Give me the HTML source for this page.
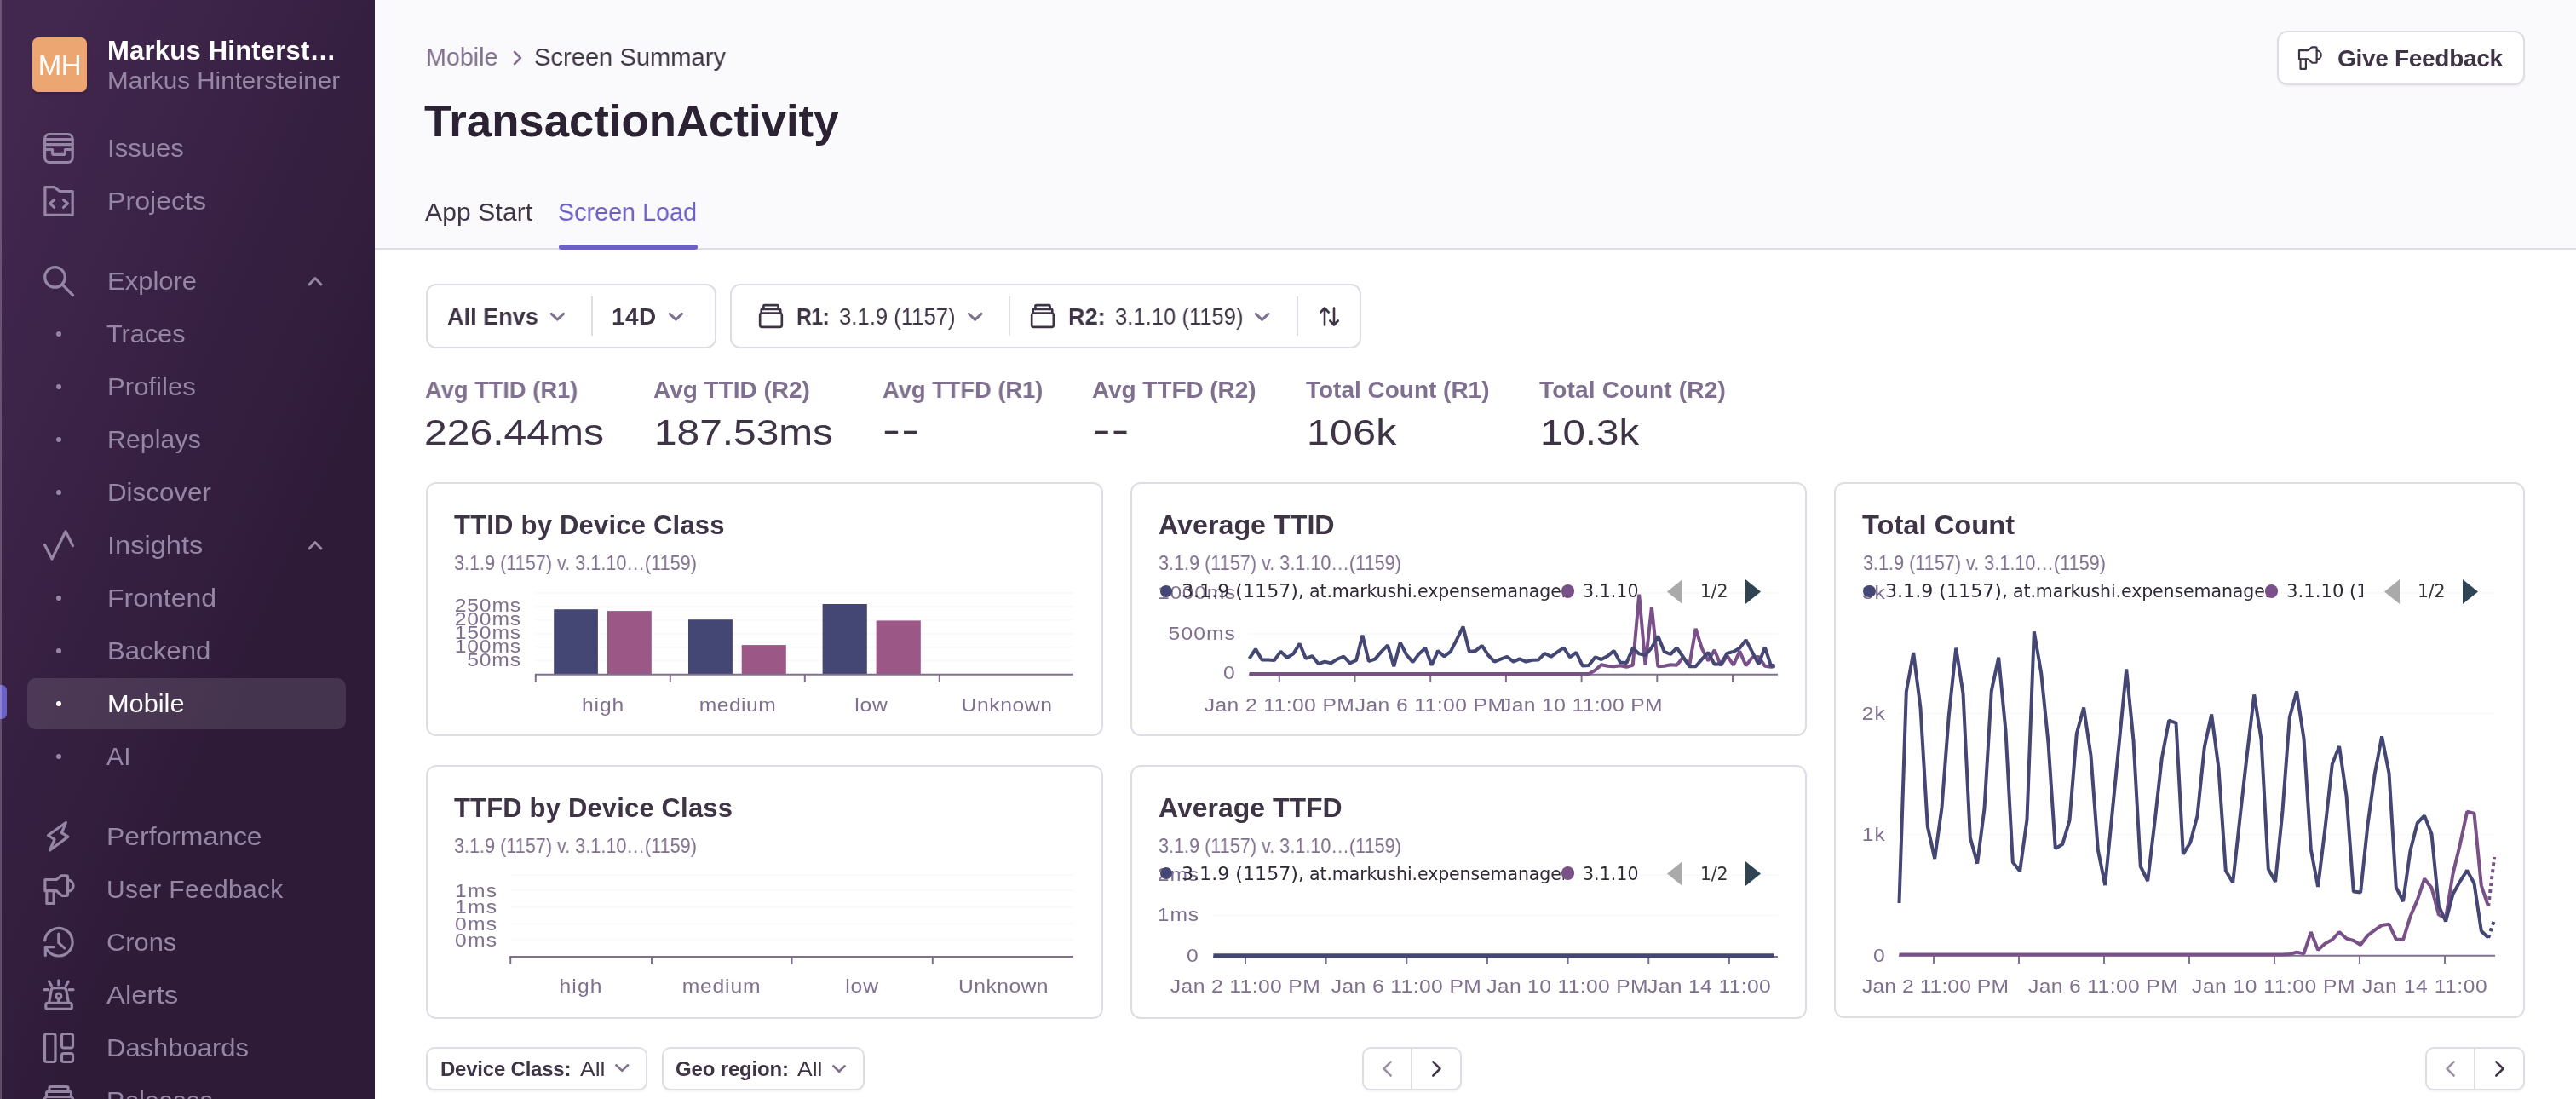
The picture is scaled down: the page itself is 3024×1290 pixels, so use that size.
<!DOCTYPE html>
<html lang="en">
<head>
<meta charset="utf-8">
<title>TransactionActivity — Screen Summary — Mobile — Sentry</title>
<style>
*{box-sizing:border-box;margin:0;padding:0}
html,body{width:3024px;height:1290px;overflow:hidden;background:#fff}
body{position:relative;font-family:"Liberation Sans",sans-serif;color:#2b2233}
.t{position:absolute;will-change:transform;white-space:nowrap;line-height:1;display:block;font-style:normal;text-decoration:none}
.abs{position:absolute}
nav.sidebar{position:absolute;left:0;top:0;width:440px;height:1290px;background:linear-gradient(294.17deg,#2e1b38 35.57%,#42274f 92.42%);overflow:hidden}
nav.sidebar .edge{position:absolute;left:0;top:0;width:2px;height:1290px;background:rgba(255,255,255,.22);z-index:3}
.ico{position:absolute;width:36px;height:36px;fill:none;stroke:#9586a5;stroke-width:3.2;stroke-linecap:round;stroke-linejoin:round;overflow:visible}
.dot{position:absolute;width:6px;height:6px;border-radius:50%;background:#9586a5;left:66px}
header.top{position:absolute;left:440px;top:0;width:2584px;height:293px;background:#faf9fb;border-bottom:2px solid #e0dce5}
main{position:absolute;left:440px;top:293px;width:2584px;height:997px;background:#fff}
.box{position:absolute;background:#fff;border:2px solid #e0dce5;border-radius:12px}
.btn{position:absolute;background:#fff;border:2px solid #e0dce5;border-radius:12px;box-shadow:0 2px 2px rgba(43,34,51,.04)}
.vdiv{position:absolute;width:2px;background:#e0dce5}
.chev{position:absolute;fill:none;stroke:#71637e;stroke-width:3;stroke-linecap:round;stroke-linejoin:round;overflow:visible}
svg.chart{position:absolute;left:0;top:0;overflow:visible}
</style>
</head>
<body>
<nav class="sidebar">
<div class="edge"></div>
<div class="abs" style="left:38px;top:44px;width:64px;height:64px;border-radius:7px;background:#eca671;box-shadow:0 2px 4px rgba(0,0,0,.18)"></div>
<div class="abs" style="left:32px;top:796px;width:374px;height:60px;border-radius:10px;background:rgba(255,255,255,.115)"></div>
<div class="abs" style="left:0;top:804px;width:8px;height:40px;border-radius:0 6px 6px 0;background:#6c5fc7"></div>
<svg class="ico" style="left:51px;top:156px" viewBox="0 0 36 36"><rect x="1.6" y="1.5" width="32.6" height="33" rx="5.5"/><path d="M2 7.6H34M2 13.6H34M2 19.5H10.5V23.4Q10.5 25.4 12.5 25.4H23.5Q25.5 25.4 25.5 23.4V19.5H34"/></svg>
<svg class="ico" style="left:51px;top:218px" viewBox="0 0 36 36"><path d="M1.9 1.7H12.6L19.2 6.5H34.2V34.3H1.9Z"/><path d="M12.6 16.5L7.6 20.9L12.6 25.4M23.5 16.5L28.6 20.9L23.5 25.4"/></svg>
<svg class="ico" style="left:51px;top:312px" viewBox="0 0 36 36"><circle cx="13.5" cy="13.4" r="11.8"/><path d="M22.6 22.4L34.6 34.5"/></svg>
<i class="dot" style="top:389px"></i>
<i class="dot" style="top:451px"></i>
<i class="dot" style="top:513px"></i>
<i class="dot" style="top:575px"></i>
<svg class="ico" style="left:51px;top:622px" viewBox="0 0 36 36"><path d="M1.5 17.6L10 34L26 1.8L34.5 18.5"/></svg>
<i class="dot" style="top:699px"></i>
<i class="dot" style="top:761px"></i>
<i class="dot" style="top:823px;background:#fff"></i>
<i class="dot" style="top:885px"></i>
<svg class="ico" style="left:51px;top:964px" viewBox="0 0 36 36"><path d="M26.4 1.5L5.5 16.5L13 21.3L7.6 34L28.9 18.1L21.4 13.6Z"/></svg>
<svg class="ico" style="left:51px;top:1026px" viewBox="0 0 36 36"><path d="M1.9 6.5H15.3L21.2 1.8H27Q28.5 1.8 28.5 3.3V24Q28.5 25.4 27 25.4H21.7L15.3 19.7H1.9Z"/><path d="M3.9 19.7V34.5H12.1V19.7"/><path d="M28.5 7A6.6 6.6 0 0 1 28.5 20.2"/></svg>
<svg class="ico" style="left:51px;top:1088px" viewBox="0 0 36 36"><path d="M1.6 16A16.3 16.3 0 1 1 5 27.8L2.4 23.8"/><path d="M2.3 33.5V23.6H12"/><path d="M17.8 8.1V18.6L24.8 24.9"/></svg>
<svg class="ico" style="left:51px;top:1150px" viewBox="0 0 36 36"><path d="M6.6 27L9.1 12.5Q9.6 9.7 12.6 9.7H23.2Q26.2 9.7 26.9 12.5L29.4 27"/><rect x="2.8" y="27.4" width="30.5" height="6.9" rx="2"/><circle cx="17.8" cy="19.2" r="3"/><path d="M17.8 22.2V27M17.8 0.8V6M6.6 2L9.4 7M29.2 2.2L26.4 7M1 11.7H5.5M30.3 11.7H35"/></svg>
<svg class="ico" style="left:51px;top:1212px" viewBox="0 0 36 36"><rect x="1.5" y="1.5" width="12.5" height="33" rx="2.5"/><rect x="21.5" y="1.5" width="13" height="16.5" rx="2.5"/><rect x="21.5" y="24.5" width="13" height="10" rx="2.5"/></svg>
<svg class="ico" style="left:51px;top:1274px" viewBox="0 0 36 36"><path d="M7 7.5V3Q7 1.5 8.5 1.5H27.5Q29 1.5 29 3V7.5"/><path d="M3.5 13.5V9Q3.5 7.5 5 7.5H31Q32.5 7.5 32.5 9V13.5"/><rect x="1.5" y="13.5" width="33" height="21" rx="3"/></svg>
<svg class="chev" style="left:362px;top:325px;width:16px;height:10px;stroke:#9586a5" viewBox="0 0 16 10"><path d="M1 9L8 1.5L15 9"/></svg>
<svg class="chev" style="left:362px;top:635px;width:16px;height:10px;stroke:#9586a5" viewBox="0 0 16 10"><path d="M1 9L8 1.5L15 9"/></svg>
<span class="t" style="left:70.0px;top:60px;font-size:33px;color:#fff;letter-spacing:-0.33px;transform:translateX(-50%);">MH</span>
<span class="t" style="left:125.8px;top:44px;font-size:31px;color:#fff;font-weight:700;letter-spacing:0.22px;">Markus Hinterst…</span>
<span class="t" style="left:126.1px;top:82px;font-size:27px;color:#9586a5;transform-origin:0 50%;transform:scaleX(1.096);">Markus Hintersteiner</span>
<a class="t" style="left:125.7px;top:159px;font-size:30px;color:#9586a5;transform-origin:0 50%;transform:scaleX(1.036);">Issues</a>
<a class="t" style="left:125.7px;top:221px;font-size:30px;color:#9586a5;transform-origin:0 50%;transform:scaleX(1.071);">Projects</a>
<a class="t" style="left:125.7px;top:315px;font-size:30px;color:#9586a5;transform-origin:0 50%;transform:scaleX(1.033);">Explore</a>
<a class="t" style="left:125.0px;top:377px;font-size:30px;color:#9586a5;transform-origin:0 50%;transform:scaleX(1.021);">Traces</a>
<a class="t" style="left:125.7px;top:439px;font-size:30px;color:#9586a5;transform-origin:0 50%;transform:scaleX(1.038);">Profiles</a>
<a class="t" style="left:125.7px;top:501px;font-size:30px;color:#9586a5;letter-spacing:0.23px;">Replays</a>
<a class="t" style="left:125.7px;top:563px;font-size:30px;color:#9586a5;transform-origin:0 50%;transform:scaleX(1.044);">Discover</a>
<a class="t" style="left:125.7px;top:625px;font-size:30px;color:#9586a5;transform-origin:0 50%;transform:scaleX(1.086);">Insights</a>
<a class="t" style="left:125.7px;top:687px;font-size:30px;color:#9586a5;transform-origin:0 50%;transform:scaleX(1.067);">Frontend</a>
<a class="t" style="left:125.7px;top:749px;font-size:30px;color:#9586a5;transform-origin:0 50%;transform:scaleX(1.039);">Backend</a>
<a class="t" style="left:125.7px;top:811px;font-size:30px;color:#fff;transform-origin:0 50%;transform:scaleX(1.024);">Mobile</a>
<a class="t" style="left:125.0px;top:873px;font-size:30px;color:#9586a5;letter-spacing:0.34px;">AI</a>
<a class="t" style="left:125.4px;top:967px;font-size:30px;color:#9586a5;transform-origin:0 50%;transform:scaleX(1.063);">Performance</a>
<a class="t" style="left:125.4px;top:1029px;font-size:30px;color:#9586a5;letter-spacing:0.32px;">User Feedback</a>
<a class="t" style="left:125.4px;top:1091px;font-size:30px;color:#9586a5;transform-origin:0 50%;transform:scaleX(1.028);">Crons</a>
<a class="t" style="left:124.5px;top:1153px;font-size:30px;color:#9586a5;transform-origin:0 50%;transform:scaleX(1.097);">Alerts</a>
<a class="t" style="left:125.4px;top:1215px;font-size:30px;color:#9586a5;transform-origin:0 50%;transform:scaleX(1.033);">Dashboards</a>
<a class="t" style="left:125.4px;top:1277px;font-size:30px;color:#9586a5;letter-spacing:-0.04px;">Releases</a>
</nav>
<header class="top">
<svg class="chev" style="left:162.5px;top:60px;width:9px;height:16px;stroke:#80708f;stroke-width:2.6" viewBox="0 0 9 16"><path d="M1 1L8 8L1 15"/></svg>
<div class="abs" style="left:216px;top:287px;width:163px;height:6px;border-radius:3px;background:#6c5fc7"></div>
<div class="btn" style="left:2233px;top:36px;width:291px;height:64px"></div>
<svg class="ico" style="left:2257px;top:54px;width:29px;height:28px;stroke:#3e3446;stroke-width:2.8" viewBox="0 0 36 36"><path d="M1.9 6.5H15.3L21.2 1.8H27Q28.5 1.8 28.5 3.3V24Q28.5 25.4 27 25.4H21.7L15.3 19.7H1.9Z"/><path d="M3.9 19.7V34.5H12.1V19.7"/><path d="M28.5 7A6.6 6.6 0 0 1 28.5 20.2"/></svg>
<a class="t" style="left:59.7px;top:52px;font-size:30px;color:#80708f;transform-origin:0 50%;transform:scaleX(0.956);">Mobile</a>
<span class="t" style="left:187.4px;top:52px;font-size:30px;color:#3e3446;transform-origin:0 50%;transform:scaleX(0.971);">Screen Summary</span>
<h1 class="t" style="left:58.4px;top:117px;font-size:51px;color:#2b2233;font-weight:700;transform-origin:0 50%;transform:scaleX(1.034);">TransactionActivity</h1>
<a class="t" style="left:59.0px;top:234px;font-size:30px;color:#3e3446;letter-spacing:0.14px;">App Start</a>
<a class="t" style="left:215.2px;top:234px;font-size:30px;color:#6c5fc7;transform-origin:0 50%;transform:scaleX(0.958);">Screen Load</a>
<span class="t" style="left:2303.5px;top:55px;font-size:28px;color:#3e3446;font-weight:700;letter-spacing:-0.30px;">Give Feedback</span>
</header>
<main>
<div class="box" style="left:60px;top:40px;width:341px;height:76px"></div>
<svg class="chev" style="left:205.8px;top:74.3px;width:16.8px;height:9.4px;stroke:#80708f;stroke-width:3" viewBox="0 0 16.8 9.4"><path d="M1.3 1.3L8.4 8.1L15.5 1.3"/></svg>
<div class="vdiv" style="left:254px;top:55px;height:46px"></div>
<svg class="chev" style="left:344.8px;top:74.3px;width:16.8px;height:9.4px;stroke:#80708f;stroke-width:3" viewBox="0 0 16.8 9.4"><path d="M1.3 1.3L8.4 8.1L15.5 1.3"/></svg>
<div class="box" style="left:417px;top:40px;width:741px;height:76px"></div>
<svg class="ico" style="left:451.0px;top:64.3px;width:28px;height:28px;stroke:#3e3446;stroke-width:3.4" viewBox="0 0 36 36"><path d="M7 7.5V3Q7 1.5 8.5 1.5H27.5Q29 1.5 29 3V7.5"/><path d="M3.5 13.5V9Q3.5 7.5 5 7.5H31Q32.5 7.5 32.5 9V13.5"/><rect x="1.5" y="13.5" width="33" height="21" rx="3"/></svg>
<svg class="chev" style="left:695.7px;top:74.2px;width:17.3px;height:9.7px;stroke:#80708f;stroke-width:3" viewBox="0 0 17.3 9.7"><path d="M1.3 1.3L8.6 8.4L16.0 1.3"/></svg>
<div class="vdiv" style="left:744px;top:55px;height:46px"></div>
<svg class="ico" style="left:770.0px;top:64.3px;width:28px;height:28px;stroke:#3e3446;stroke-width:3.4" viewBox="0 0 36 36"><path d="M7 7.5V3Q7 1.5 8.5 1.5H27.5Q29 1.5 29 3V7.5"/><path d="M3.5 13.5V9Q3.5 7.5 5 7.5H31Q32.5 7.5 32.5 9V13.5"/><rect x="1.5" y="13.5" width="33" height="21" rx="3"/></svg>
<svg class="chev" style="left:1033.4px;top:74.2px;width:17.2px;height:9.6px;stroke:#80708f;stroke-width:3" viewBox="0 0 17.2 9.6"><path d="M1.3 1.3L8.6 8.3L15.9 1.3"/></svg>
<div class="vdiv" style="left:1082px;top:55px;height:46px"></div>
<svg class="chev" style="left:1109px;top:67px;width:23px;height:23px;stroke:#3e3446;stroke-width:2.6" viewBox="0 0 23 23"><path d="M6 21.5V1.8M1.3 6.5L6 1.5L10.7 6.5M17 1.5V21.2M12.3 16.5L17 21.5L21.7 16.5"/></svg>
<section class="box" style="left:60px;top:273px;width:795px;height:298px"></section>
<section class="box" style="left:887px;top:273px;width:794px;height:298px"></section>
<section class="box" style="left:1713px;top:273px;width:811px;height:629px"></section>
<section class="box" style="left:60px;top:605px;width:795px;height:298px"></section>
<section class="box" style="left:887px;top:605px;width:794px;height:298px"></section>
<svg class="chart" style="left:60px;top:273px;width:795px;height:298px" viewBox="500 566 795 298"><path d="M628.5 696H1260" stroke="#faf9fb" stroke-width="2" fill="none"/><path d="M628.5 712H1260" stroke="#faf9fb" stroke-width="2" fill="none"/><path d="M628.5 727.8H1260" stroke="#faf9fb" stroke-width="2" fill="none"/><path d="M628.5 744H1260" stroke="#faf9fb" stroke-width="2" fill="none"/><path d="M628.5 759.8H1260" stroke="#faf9fb" stroke-width="2" fill="none"/><path d="M628.5 775.6H1260" stroke="#faf9fb" stroke-width="2" fill="none"/><rect x="650.2" y="715.2" width="51.7" height="75.8" fill="#444674"/><rect x="713" y="717.1" width="51.8" height="73.9" fill="#9b5887"/><rect x="808" y="727.2" width="51.9" height="63.8" fill="#444674"/><rect x="870.7" y="757.1" width="52.1" height="33.9" fill="#9b5887"/><rect x="965.6" y="709" width="52.2" height="82.0" fill="#444674"/><rect x="1028.6" y="728.4" width="52.2" height="62.6" fill="#9b5887"/><path d="M628 791.8H1260" stroke="#80708f" stroke-width="2" fill="none"/><path d="M628.8 791V800.8M786.8 791V800.8M944.8 791V800.8M1102.8 791V800.8" stroke="#80708f" stroke-width="2" fill="none"/></svg>
<svg class="chart" style="left:60px;top:605px;width:795px;height:298px" viewBox="500 898 795 298"><path d="M599 1027H1260" stroke="#faf9fb" stroke-width="2" fill="none"/><path d="M599 1045H1260" stroke="#faf9fb" stroke-width="2" fill="none"/><path d="M599 1064.6H1260" stroke="#faf9fb" stroke-width="2" fill="none"/><path d="M599 1084.6H1260" stroke="#faf9fb" stroke-width="2" fill="none"/><path d="M599 1102.8H1260" stroke="#faf9fb" stroke-width="2" fill="none"/><path d="M598.5 1123H1260" stroke="#80708f" stroke-width="2" fill="none"/><path d="M599.2 1122V1132M765 1122V1132M929.5 1122V1132M1094.8 1122V1132" stroke="#80708f" stroke-width="2" fill="none"/></svg>
<svg class="chart" style="left:887px;top:273px;width:794px;height:298px" viewBox="1327 566 794 298"><path d="M1466.4 696H2087" stroke="#faf9fb" stroke-width="2" fill="none"/><path d="M1466.4 744H2087" stroke="#faf9fb" stroke-width="2" fill="none"/><path d="M1466 791.8H2087" stroke="#80708f" stroke-width="2" fill="none"/><path d="M1501.8 791V800.8M1590.5 791V800.8M1679.2 791V800.8M1767.9 791V800.8M1856.6 791V800.8M1945.3 791V800.8M2034.0 791V800.8" stroke="#80708f" stroke-width="2" fill="none"/><polyline points="1466.6,790.9 1474.0,790.9 1481.4,790.9 1488.7,790.9 1496.1,790.9 1503.5,790.9 1510.9,790.9 1518.3,790.9 1525.6,790.9 1533.0,790.9 1540.4,790.9 1547.8,790.9 1555.2,790.9 1562.5,790.9 1569.9,790.9 1577.3,790.9 1584.7,790.9 1592.1,790.9 1599.4,790.9 1606.8,790.9 1614.2,790.9 1621.6,790.9 1629.0,790.9 1636.3,790.9 1643.7,790.9 1651.1,790.9 1658.5,790.9 1665.9,790.9 1673.2,790.9 1680.6,790.9 1688.0,790.9 1695.4,790.9 1702.8,790.9 1710.1,790.9 1717.5,790.9 1724.9,790.9 1732.3,790.9 1739.7,790.9 1747.0,790.9 1754.4,790.9 1761.8,790.9 1769.2,790.9 1776.6,790.9 1783.9,790.9 1791.3,790.9 1798.7,790.9 1806.1,790.9 1813.5,790.9 1820.8,790.9 1828.2,790.9 1835.6,790.9 1843.0,790.9 1850.4,790.9 1857.7,790.9 1865.1,790.9 1872.5,786.8 1879.9,780.2 1887.3,781.7 1894.6,782.2 1902.0,781.2 1909.4,782.7 1916.8,780.7 1924.2,697.6 1931.5,780.7 1938.9,712.4 1946.3,782.2 1953.7,781.7 1961.1,780.2 1968.4,780.7 1975.8,771.5 1983.2,781.2 1990.6,737.9 1998.0,761.3 2005.3,775.6 2012.7,762.9 2020.1,781.2 2027.5,769.5 2034.9,780.7 2042.2,764.4 2049.6,781.2 2057.0,771.5 2064.4,771.0 2071.8,781.7 2079.1,782.7 2083.5,782.0" fill="none" stroke="#7a5088" stroke-width="4" stroke-linejoin="bevel" /><polyline points="1466.6,773.0 1474.0,761.8 1481.4,774.6 1488.7,774.4 1496.1,774.9 1503.5,764.7 1510.9,772.0 1518.3,767.4 1525.6,755.5 1533.0,773.0 1540.4,770.0 1547.8,779.2 1555.2,776.6 1562.5,778.4 1569.9,773.6 1577.3,770.5 1584.7,778.4 1592.1,775.0 1599.4,745.8 1606.8,776.1 1614.2,773.6 1621.6,764.9 1629.0,757.3 1636.3,782.2 1643.7,754.2 1651.1,768.5 1658.5,777.1 1665.9,767.4 1673.2,760.8 1680.6,780.7 1688.0,763.9 1695.4,770.5 1702.8,764.9 1710.1,750.6 1717.5,735.6 1724.9,764.9 1732.3,763.9 1739.7,757.8 1747.0,769.0 1754.4,776.6 1761.8,773.6 1769.2,770.8 1776.6,776.6 1783.9,773.4 1791.3,776.6 1798.7,774.8 1806.1,774.4 1813.5,766.9 1820.8,770.8 1828.2,765.4 1835.6,760.3 1843.0,771.5 1850.4,765.9 1857.7,781.5 1865.1,781.0 1872.5,771.5 1879.9,774.0 1887.3,770.0 1894.6,763.9 1902.0,777.6 1909.4,778.1 1916.8,760.8 1924.2,767.4 1931.5,769.0 1938.9,760.3 1946.3,746.6 1953.7,764.9 1961.1,768.0 1968.4,760.3 1975.8,771.0 1983.2,782.2 1990.6,782.2 1998.0,773.6 2005.3,765.9 2012.7,779.7 2020.1,779.2 2027.5,766.9 2034.9,764.9 2042.2,760.8 2049.6,751.1 2057.0,765.4 2064.4,779.7 2071.8,759.8 2079.1,781.7 2083.5,780.7" fill="none" stroke="#444674" stroke-width="4" stroke-linejoin="bevel" /></svg>
<i class="abs" style="left:921.6px;top:393.7px;width:14.8px;height:14.8px;border-radius:50%;background:#444674;z-index:2"></i><i class="abs" style="left:1392.6px;top:393.4px;width:15.4px;height:15.4px;border-radius:50%;background:#7a5088;z-index:2"></i><svg class="abs" style="left:1516.6px;top:386.6px;width:18px;height:29px" viewBox="0 0 18 29"><path d="M0 14.5L18 0V29Z" fill="#aaa"/></svg><svg class="abs" style="left:1609.0px;top:386.6px;width:18px;height:29px" viewBox="0 0 18 29"><path d="M18 14.5L0 0V29Z" fill="#2f4554"/></svg>
<svg class="chart" style="left:887px;top:605px;width:794px;height:298px" viewBox="1327 898 794 298"><path d="M1424.4 1027H2087" stroke="#faf9fb" stroke-width="2" fill="none"/><path d="M1424.4 1074.5H2087" stroke="#faf9fb" stroke-width="2" fill="none"/><path d="M1424 1123H2087" stroke="#80708f" stroke-width="2" fill="none"/><path d="M1462.0 1122V1132M1556.65 1122V1132M1651.3 1122V1132M1745.95 1122V1132M1840.6 1122V1132M1935.25 1122V1132M2029.9 1122V1132" stroke="#80708f" stroke-width="2" fill="none"/><path d="M1424.4 1121.8H2082.4" stroke="#444674" stroke-width="5" fill="none"/></svg>
<i class="abs" style="left:921.6px;top:724.7px;width:14.8px;height:14.8px;border-radius:50%;background:#444674;z-index:2"></i><i class="abs" style="left:1392.6px;top:724.4px;width:15.4px;height:15.4px;border-radius:50%;background:#7a5088;z-index:2"></i><svg class="abs" style="left:1516.6px;top:717.6px;width:18px;height:29px" viewBox="0 0 18 29"><path d="M0 14.5L18 0V29Z" fill="#aaa"/></svg><svg class="abs" style="left:1609.0px;top:717.6px;width:18px;height:29px" viewBox="0 0 18 29"><path d="M18 14.5L0 0V29Z" fill="#2f4554"/></svg>
<svg class="chart" style="left:1713px;top:273px;width:811px;height:629px" viewBox="2153 566 811 629"><path d="M2229 696H2929" stroke="#faf9fb" stroke-width="2" fill="none"/><path d="M2229 837.5H2929" stroke="#faf9fb" stroke-width="2" fill="none"/><path d="M2229 979.5H2929" stroke="#faf9fb" stroke-width="2" fill="none"/><path d="M2229 1121.8H2929" stroke="#80708f" stroke-width="2" fill="none"/><path d="M2270 1121V1131M2370 1121V1131M2470 1121V1131M2570 1121V1131M2670 1121V1131M2770 1121V1131M2870 1121V1131" stroke="#80708f" stroke-width="2" fill="none"/><polyline points="2229.5,1120.6 2237.8,1120.6 2246.2,1120.6 2254.5,1120.6 2262.8,1120.6 2271.2,1120.6 2279.5,1120.6 2287.8,1120.6 2296.2,1120.6 2304.5,1120.6 2312.8,1120.6 2321.2,1120.6 2329.5,1120.6 2337.8,1120.6 2346.2,1120.6 2354.5,1120.6 2362.8,1120.6 2371.2,1120.6 2379.5,1120.6 2387.8,1120.6 2396.2,1120.6 2404.5,1120.6 2412.8,1120.6 2421.2,1120.6 2429.5,1120.6 2437.8,1120.6 2446.2,1120.6 2454.5,1120.6 2462.8,1120.6 2471.2,1120.6 2479.5,1120.6 2487.8,1120.6 2496.2,1120.6 2504.5,1120.6 2512.8,1120.6 2521.2,1120.6 2529.5,1120.6 2537.8,1120.6 2546.2,1120.6 2554.5,1120.6 2562.8,1120.6 2571.2,1120.6 2579.5,1120.6 2587.8,1120.6 2596.2,1120.6 2604.5,1120.6 2612.8,1120.6 2621.2,1120.6 2629.5,1120.6 2637.8,1120.6 2646.2,1120.6 2654.5,1120.6 2662.8,1120.6 2671.1,1120.6 2679.5,1120.6 2687.8,1120.0 2696.1,1117.6 2704.5,1119.4 2712.8,1094.0 2721.1,1115.0 2729.5,1107.6 2737.8,1103.0 2746.1,1094.0 2754.5,1101.6 2762.8,1104.0 2771.1,1109.0 2779.5,1098.0 2787.8,1091.6 2796.1,1086.0 2804.5,1084.8 2812.8,1102.6 2821.1,1103.0 2829.5,1075.8 2837.8,1056.4 2846.1,1031.4 2854.5,1042.0 2862.8,1073.5 2871.1,1077.6 2879.5,1025.7 2887.8,991.5 2896.1,952.8 2904.5,954.7 2912.8,1039.3 2921.1,1063.9" fill="none" stroke="#7a5088" stroke-width="4" stroke-linejoin="bevel" /><polyline points="2921.1,1063.9 2928.2,1006.0" fill="none" stroke="#7a5088" stroke-width="4" stroke-linejoin="bevel" stroke-dasharray="4 4"/><polyline points="2229.5,1060.0 2237.8,812.0 2246.2,766.0 2254.5,831.0 2262.8,970.0 2271.2,1008.0 2279.5,948.0 2287.8,840.0 2296.2,760.6 2304.5,814.0 2312.8,983.0 2321.2,1013.6 2329.5,949.0 2337.8,811.0 2346.2,771.6 2354.5,858.0 2362.8,1012.0 2371.2,1022.4 2379.5,962.0 2387.8,741.4 2396.2,790.0 2404.5,872.0 2412.8,996.0 2421.2,991.0 2429.5,963.0 2437.8,861.0 2446.2,830.6 2454.5,887.0 2462.8,997.4 2471.2,1039.0 2479.5,955.0 2487.8,871.0 2496.2,785.4 2504.5,869.0 2512.8,1017.0 2521.2,1034.0 2529.5,964.6 2537.8,890.0 2546.2,845.6 2554.5,848.6 2562.8,1002.6 2571.2,989.0 2579.5,957.6 2587.8,877.0 2596.2,838.4 2604.5,902.0 2612.8,1022.0 2621.2,1036.0 2629.5,960.0 2637.8,886.0 2646.2,815.4 2654.5,868.0 2662.8,1020.0 2671.1,1035.0 2679.5,952.0 2687.8,842.0 2696.1,811.6 2704.5,867.0 2712.8,997.0 2721.1,1041.0 2729.5,972.0 2737.8,897.0 2746.1,876.0 2754.5,934.0 2762.8,1046.6 2771.1,1047.6 2779.5,968.0 2787.8,908.0 2796.1,864.4 2804.5,907.5 2812.8,1041.3 2821.1,1058.0 2829.5,998.4 2837.8,966.0 2846.1,957.4 2854.5,979.0 2862.8,1063.0 2871.1,1081.5 2879.5,1049.6 2887.8,1034.8 2896.1,1021.6 2904.5,1037.0 2912.8,1092.8 2921.1,1100.8" fill="none" stroke="#444674" stroke-width="4" stroke-linejoin="bevel" /><polyline points="2921.1,1100.8 2928.6,1078.0" fill="none" stroke="#444674" stroke-width="4" stroke-linejoin="bevel" stroke-dasharray="4 4"/></svg>
<i class="abs" style="left:1747.4px;top:393.7px;width:14.8px;height:14.8px;border-radius:50%;background:#444674;z-index:2"></i><i class="abs" style="left:2218.6px;top:393.4px;width:15.4px;height:15.4px;border-radius:50%;background:#7a5088;z-index:2"></i><svg class="abs" style="left:2358.8px;top:386.6px;width:18px;height:29px" viewBox="0 0 18 29"><path d="M0 14.5L18 0V29Z" fill="#aaa"/></svg><svg class="abs" style="left:2451.0px;top:386.6px;width:18px;height:29px" viewBox="0 0 18 29"><path d="M18 14.5L0 0V29Z" fill="#2f4554"/></svg>
<div class="btn" style="left:60px;top:936px;width:260px;height:51px;border-radius:10px"></div>
<svg class="chev" style="left:282.0px;top:956.4px;width:16.4px;height:9.2px;stroke:#80708f;stroke-width:2.6" viewBox="0 0 16.4 9.2"><path d="M1.3 1.3L8.2 7.9L15.1 1.3"/></svg>
<div class="btn" style="left:336.5px;top:936px;width:238px;height:51px;border-radius:10px"></div>
<svg class="chev" style="left:537.0px;top:956.5px;width:16.0px;height:9.0px;stroke:#80708f;stroke-width:2.6" viewBox="0 0 16.0 9.0"><path d="M1.3 1.3L8.0 7.7L14.7 1.3"/></svg>
<div class="btn" style="left:1158.5px;top:936px;width:117px;height:51px;border-radius:10px"></div><div class="vdiv" style="left:1216.0px;top:937px;height:49px"></div><svg class="chev" style="left:1182.5px;top:952px;width:11px;height:19px;stroke:#9c92a8;stroke-width:2.6" viewBox="0 0 11 19"><path d="M9.7 1.3L1.5 9.5L9.7 17.7"/></svg><svg class="chev" style="left:1240.5px;top:952px;width:11px;height:19px;stroke:#3e3446;stroke-width:2.6" viewBox="0 0 11 19"><path d="M1.3 1.3L9.5 9.5L1.3 17.7"/></svg>
<div class="btn" style="left:2406.5px;top:936px;width:117px;height:51px;border-radius:10px"></div><div class="vdiv" style="left:2464.0px;top:937px;height:49px"></div><svg class="chev" style="left:2430.5px;top:952px;width:11px;height:19px;stroke:#9c92a8;stroke-width:2.6" viewBox="0 0 11 19"><path d="M9.7 1.3L1.5 9.5L9.7 17.7"/></svg><svg class="chev" style="left:2488.5px;top:952px;width:11px;height:19px;stroke:#3e3446;stroke-width:2.6" viewBox="0 0 11 19"><path d="M1.3 1.3L9.5 9.5L1.3 17.7"/></svg>
<span class="t" style="left:85.0px;top:65px;font-size:28px;color:#3e3446;font-weight:700;transform-origin:0 50%;transform:scaleX(0.967);">All Envs</span>
<span class="t" style="left:277.8px;top:65px;font-size:28px;color:#3e3446;font-weight:700;letter-spacing:0.46px;">14D</span>
<span class="t" style="left:494.5px;top:65px;font-size:28px;color:#3e3446;font-weight:700;letter-spacing:-0.52px;transform-origin:0 50%;transform:scaleX(0.880);">R1:</span>
<span class="t" style="left:545.2px;top:65px;font-size:28px;color:#3e3446;transform-origin:0 50%;transform:scaleX(0.917);">3.1.9 (1157)</span>
<span class="t" style="left:814.1px;top:65px;font-size:28px;color:#3e3446;font-weight:700;transform-origin:0 50%;transform:scaleX(0.968);">R2:</span>
<span class="t" style="left:869.3px;top:65px;font-size:28px;color:#3e3446;transform-origin:0 50%;transform:scaleX(0.915);">3.1.10 (1159)</span>
<span class="t" style="left:59.0px;top:151px;font-size:28px;color:#80708f;font-weight:700;transform-origin:0 50%;transform:scaleX(0.974);">Avg TTID (R1)</span>
<span class="t" style="left:58.1px;top:193px;font-size:43px;color:#3e3446;transform-origin:0 50%;transform:scaleX(1.117);">226.44ms</span>
<span class="t" style="left:327.3px;top:151px;font-size:28px;color:#80708f;font-weight:700;letter-spacing:-0.02px;">Avg TTID (R2)</span>
<span class="t" style="left:327.9px;top:193px;font-size:43px;color:#3e3446;transform-origin:0 50%;transform:scaleX(1.112);">187.53ms</span>
<span class="t" style="left:596.3px;top:151px;font-size:28px;color:#80708f;font-weight:700;transform-origin:0 50%;transform:scaleX(0.974);">Avg TTFD (R1)</span>
<span class="t" style="left:596.4px;top:190px;font-size:43px;color:#3e3446;letter-spacing:0.89px;transform-origin:0 50%;transform:scaleX(1.466);">--</span>
<span class="t" style="left:842.3px;top:151px;font-size:28px;color:#80708f;font-weight:700;letter-spacing:-0.07px;">Avg TTFD (R2)</span>
<span class="t" style="left:843.4px;top:190px;font-size:43px;color:#3e3446;letter-spacing:0.89px;transform-origin:0 50%;transform:scaleX(1.433);">--</span>
<span class="t" style="left:1093.3px;top:151px;font-size:28px;color:#80708f;font-weight:700;letter-spacing:-0.01px;">Total Count (R1)</span>
<span class="t" style="left:1094.4px;top:193px;font-size:43px;color:#3e3446;letter-spacing:0.26px;transform-origin:0 50%;transform:scaleX(1.120);">106k</span>
<span class="t" style="left:1367.3px;top:151px;font-size:28px;color:#80708f;font-weight:700;letter-spacing:0.21px;">Total Count (R2)</span>
<span class="t" style="left:1368.0px;top:193px;font-size:43px;color:#3e3446;transform-origin:0 50%;transform:scaleX(1.104);">10.3k</span>
<h3 class="t" style="left:92.7px;top:308px;font-size:31px;color:#3e3446;font-weight:700;letter-spacing:0.21px;">TTID by Device Class</h3>
<span class="t" style="left:93.2px;top:356px;font-size:24px;color:#80708f;transform-origin:0 50%;transform:scaleX(0.901);">3.1.9 (1157) v. 3.1.10…(1159)</span>
<h3 class="t" style="left:919.5px;top:308px;font-size:31px;color:#3e3446;font-weight:700;transform-origin:0 50%;transform:scaleX(1.040);">Average TTID</h3>
<span class="t" style="left:920.0px;top:356px;font-size:24px;color:#80708f;transform-origin:0 50%;transform:scaleX(0.901);">3.1.9 (1157) v. 3.1.10…(1159)</span>
<h3 class="t" style="left:1746.1px;top:308px;font-size:31px;color:#3e3446;font-weight:700;transform-origin:0 50%;transform:scaleX(1.054);">Total Count</h3>
<span class="t" style="left:1746.6px;top:356px;font-size:24px;color:#80708f;transform-origin:0 50%;transform:scaleX(0.901);">3.1.9 (1157) v. 3.1.10…(1159)</span>
<h3 class="t" style="left:92.7px;top:640px;font-size:31px;color:#3e3446;font-weight:700;letter-spacing:0.16px;">TTFD by Device Class</h3>
<span class="t" style="left:93.2px;top:688px;font-size:24px;color:#80708f;transform-origin:0 50%;transform:scaleX(0.901);">3.1.9 (1157) v. 3.1.10…(1159)</span>
<h3 class="t" style="left:919.5px;top:640px;font-size:31px;color:#3e3446;font-weight:700;transform-origin:0 50%;transform:scaleX(1.032);">Average TTFD</h3>
<span class="t" style="left:920.0px;top:688px;font-size:24px;color:#80708f;transform-origin:0 50%;transform:scaleX(0.901);">3.1.9 (1157) v. 3.1.10…(1159)</span>
<span class="t" style="left:172.3px;top:407px;font-size:22px;color:#80708f;letter-spacing:0.77px;transform-origin:100% 50%;transform:translateX(-100%) scaleX(1.120);">250ms</span>
<span class="t" style="left:172.3px;top:423px;font-size:22px;color:#80708f;letter-spacing:0.77px;transform-origin:100% 50%;transform:translateX(-100%) scaleX(1.120);">200ms</span>
<span class="t" style="left:172.3px;top:439px;font-size:22px;color:#80708f;letter-spacing:0.77px;transform-origin:100% 50%;transform:translateX(-100%) scaleX(1.120);">150ms</span>
<span class="t" style="left:172.3px;top:455px;font-size:22px;color:#80708f;letter-spacing:0.77px;transform-origin:100% 50%;transform:translateX(-100%) scaleX(1.120);">100ms</span>
<span class="t" style="left:172.3px;top:471px;font-size:22px;color:#80708f;letter-spacing:0.79px;transform-origin:100% 50%;transform:translateX(-100%) scaleX(1.120);">50ms</span>
<span class="t" style="left:267.7px;top:524px;font-size:22px;color:#80708f;letter-spacing:0.78px;transform-origin:50% 50%;transform:translateX(-50%) scaleX(1.120);">high</span>
<span class="t" style="left:425.7px;top:524px;font-size:22px;color:#80708f;letter-spacing:0.44px;transform-origin:50% 50%;transform:translateX(-50%) scaleX(1.120);">medium</span>
<span class="t" style="left:583.4px;top:524px;font-size:22px;color:#80708f;letter-spacing:0.68px;transform-origin:50% 50%;transform:translateX(-50%) scaleX(1.120);">low</span>
<span class="t" style="left:741.5px;top:524px;font-size:22px;color:#80708f;letter-spacing:0.53px;transform-origin:50% 50%;transform:translateX(-50%) scaleX(1.120);">Unknown</span>
<span class="t" style="left:94.2px;top:742px;font-size:22px;color:#80708f;letter-spacing:1.09px;transform-origin:0 50%;transform:scaleX(1.120);">1ms</span>
<span class="t" style="left:94.2px;top:761px;font-size:22px;color:#80708f;letter-spacing:1.09px;transform-origin:0 50%;transform:scaleX(1.120);">1ms</span>
<span class="t" style="left:94.2px;top:781px;font-size:22px;color:#80708f;letter-spacing:1.09px;transform-origin:0 50%;transform:scaleX(1.120);">0ms</span>
<span class="t" style="left:94.2px;top:800px;font-size:22px;color:#80708f;letter-spacing:1.09px;transform-origin:0 50%;transform:scaleX(1.120);">0ms</span>
<span class="t" style="left:241.9px;top:854px;font-size:22px;color:#80708f;letter-spacing:0.99px;transform-origin:50% 50%;transform:translateX(-50%) scaleX(1.120);">high</span>
<span class="t" style="left:407.1px;top:854px;font-size:22px;color:#80708f;letter-spacing:0.76px;transform-origin:50% 50%;transform:translateX(-50%) scaleX(1.120);">medium</span>
<span class="t" style="left:572.1px;top:854px;font-size:22px;color:#80708f;letter-spacing:0.81px;transform-origin:50% 50%;transform:translateX(-50%) scaleX(1.120);">low</span>
<span class="t" style="left:737.6px;top:854px;font-size:22px;color:#80708f;letter-spacing:0.43px;transform-origin:50% 50%;transform:translateX(-50%) scaleX(1.120);">Unknown</span>
<span class="t" style="left:1010.5px;top:392px;font-size:22px;color:#80708f;letter-spacing:0.65px;transform-origin:100% 50%;transform:translateX(-100%) scaleX(1.120);">1000ms</span>
<span class="t" style="left:1010.5px;top:440px;font-size:22px;color:#80708f;letter-spacing:0.97px;transform-origin:100% 50%;transform:translateX(-100%) scaleX(1.120);">500ms</span>
<span class="t" style="left:1010.5px;top:486px;font-size:22px;color:#80708f;letter-spacing:1.14px;transform-origin:100% 50%;transform:translateX(-100%) scaleX(1.120);">0</span>
<span class="t" style="left:1061.6px;top:524px;font-size:22px;color:#80708f;letter-spacing:0.36px;transform-origin:50% 50%;transform:translateX(-50%) scaleX(1.120);">Jan 2 11:00 PM</span>
<span class="t" style="left:1238.8px;top:524px;font-size:22px;color:#80708f;letter-spacing:0.38px;transform-origin:50% 50%;transform:translateX(-50%) scaleX(1.120);">Jan 6 11:00 PM</span>
<span class="t" style="left:1416.9px;top:524px;font-size:22px;color:#80708f;letter-spacing:0.32px;transform-origin:50% 50%;transform:translateX(-50%) scaleX(1.120);">Jan 10 11:00 PM</span>
<span class="t" style="left:946.8px;top:391px;font-size:20.5px;color:#2f2837;font-family:'DejaVu Sans', 'Liberation Sans', sans-serif;transform-origin:0 50%;transform:scaleX(1.080);">3.1.9 (1157),</span>
<span class="t" style="left:1096.8px;top:391px;font-size:20.5px;color:#2f2837;font-family:'DejaVu Sans', 'Liberation Sans', sans-serif;letter-spacing:-0.10px;clip-path:inset(-9px 5.8px -9px -9px);">at.markushi.expensemanager</span>
<span class="t" style="left:1418.3px;top:391px;font-size:20.5px;color:#2f2837;font-family:'DejaVu Sans', 'Liberation Sans', sans-serif;letter-spacing:0.05px;clip-path:inset(-9px -16.3px -9px -9px);">3.1.10</span>
<span class="t" style="left:1556.0px;top:391px;font-size:20.5px;color:#333;font-family:'DejaVu Sans', 'Liberation Sans', sans-serif;letter-spacing:-0.27px;">1/2</span>
<span class="t" style="left:968.4px;top:723px;font-size:22px;color:#80708f;letter-spacing:0.78px;transform-origin:100% 50%;transform:translateX(-100%) scaleX(1.120);">2ms</span>
<span class="t" style="left:968.4px;top:770px;font-size:22px;color:#80708f;letter-spacing:0.78px;transform-origin:100% 50%;transform:translateX(-100%) scaleX(1.120);">1ms</span>
<span class="t" style="left:968.4px;top:818px;font-size:22px;color:#80708f;letter-spacing:1.05px;transform-origin:100% 50%;transform:translateX(-100%) scaleX(1.120);">0</span>
<span class="t" style="left:1022.0px;top:854px;font-size:22px;color:#80708f;letter-spacing:0.35px;transform-origin:50% 50%;transform:translateX(-50%) scaleX(1.120);">Jan 2 11:00 PM</span>
<span class="t" style="left:1211.2px;top:854px;font-size:22px;color:#80708f;letter-spacing:0.37px;transform-origin:50% 50%;transform:translateX(-50%) scaleX(1.120);">Jan 6 11:00 PM</span>
<span class="t" style="left:1400.3px;top:854px;font-size:22px;color:#80708f;letter-spacing:0.31px;transform-origin:50% 50%;transform:translateX(-50%) scaleX(1.120);">Jan 10 11:00 PM</span>
<span class="t" style="left:1493.7px;top:854px;font-size:22px;color:#80708f;letter-spacing:0.33px;transform-origin:0 50%;transform:scaleX(1.120);clip-path:inset(-9px 34.3px -9px -9px);">Jan 14 11:00 PM</span>
<span class="t" style="left:946.8px;top:723px;font-size:20.5px;color:#2f2837;font-family:'DejaVu Sans', 'Liberation Sans', sans-serif;transform-origin:0 50%;transform:scaleX(1.080);">3.1.9 (1157),</span>
<span class="t" style="left:1096.8px;top:723px;font-size:20.5px;color:#2f2837;font-family:'DejaVu Sans', 'Liberation Sans', sans-serif;letter-spacing:-0.10px;clip-path:inset(-9px 5.8px -9px -9px);">at.markushi.expensemanager</span>
<span class="t" style="left:1418.3px;top:723px;font-size:20.5px;color:#2f2837;font-family:'DejaVu Sans', 'Liberation Sans', sans-serif;letter-spacing:0.05px;clip-path:inset(-9px -16.3px -9px -9px);">3.1.10</span>
<span class="t" style="left:1556.0px;top:723px;font-size:20.5px;color:#333;font-family:'DejaVu Sans', 'Liberation Sans', sans-serif;letter-spacing:-0.27px;">1/2</span>
<span class="t" style="left:1773.9px;top:392px;font-size:22px;color:#80708f;letter-spacing:1.04px;transform-origin:100% 50%;transform:translateX(-100%) scaleX(1.120);">3k</span>
<span class="t" style="left:1773.9px;top:534px;font-size:22px;color:#80708f;letter-spacing:1.04px;transform-origin:100% 50%;transform:translateX(-100%) scaleX(1.120);">2k</span>
<span class="t" style="left:1773.9px;top:676px;font-size:22px;color:#80708f;letter-spacing:1.04px;transform-origin:100% 50%;transform:translateX(-100%) scaleX(1.120);">1k</span>
<span class="t" style="left:1773.7px;top:818px;font-size:22px;color:#80708f;letter-spacing:1.23px;transform-origin:100% 50%;transform:translateX(-100%) scaleX(1.120);">0</span>
<span class="t" style="left:1831.7px;top:854px;font-size:22px;color:#80708f;letter-spacing:0.08px;transform-origin:50% 50%;transform:translateX(-50%) scaleX(1.120);">Jan 2 11:00 PM</span>
<span class="t" style="left:2029.4px;top:854px;font-size:22px;color:#80708f;letter-spacing:0.34px;transform-origin:50% 50%;transform:translateX(-50%) scaleX(1.120);">Jan 6 11:00 PM</span>
<span class="t" style="left:2229.3px;top:854px;font-size:22px;color:#80708f;letter-spacing:0.44px;transform-origin:50% 50%;transform:translateX(-50%) scaleX(1.120);">Jan 10 11:00 PM</span>
<span class="t" style="left:2332.7px;top:854px;font-size:22px;color:#80708f;letter-spacing:0.49px;transform-origin:0 50%;transform:scaleX(1.120);clip-path:inset(-9px 36.5px -9px -9px);">Jan 14 11:00 PM</span>
<span class="t" style="left:1772.6px;top:391px;font-size:20.5px;color:#2f2837;font-family:'DejaVu Sans', 'Liberation Sans', sans-serif;transform-origin:0 50%;transform:scaleX(1.080);">3.1.9 (1157),</span>
<span class="t" style="left:1922.6px;top:391px;font-size:20.5px;color:#2f2837;font-family:'DejaVu Sans', 'Liberation Sans', sans-serif;letter-spacing:-0.10px;clip-path:inset(-9px 5.6px -9px -9px);">at.markushi.expensemanager</span>
<span class="t" style="left:2244.3px;top:391px;font-size:20.5px;color:#2f2837;font-family:'DejaVu Sans', 'Liberation Sans', sans-serif;transform-origin:0 50%;transform:scaleX(1.033);clip-path:inset(-9px 52.8px -9px -9px);">3.1.10 (1159)</span>
<span class="t" style="left:2398.3px;top:391px;font-size:20.5px;color:#333;font-family:'DejaVu Sans', 'Liberation Sans', sans-serif;letter-spacing:-0.27px;">1/2</span>
<span class="t" style="left:77.4px;top:950px;font-size:24px;color:#3e3446;font-weight:700;letter-spacing:-0.22px;">Device Class:</span>
<span class="t" style="left:240.6px;top:950px;font-size:24px;color:#3e3446;transform-origin:0 50%;transform:scaleX(1.102);">All</span>
<span class="t" style="left:352.6px;top:950px;font-size:24px;color:#3e3446;font-weight:700;letter-spacing:-0.16px;">Geo region:</span>
<span class="t" style="left:495.6px;top:950px;font-size:24px;color:#3e3446;transform-origin:0 50%;transform:scaleX(1.102);">All</span>
</main>
</body>
</html>
